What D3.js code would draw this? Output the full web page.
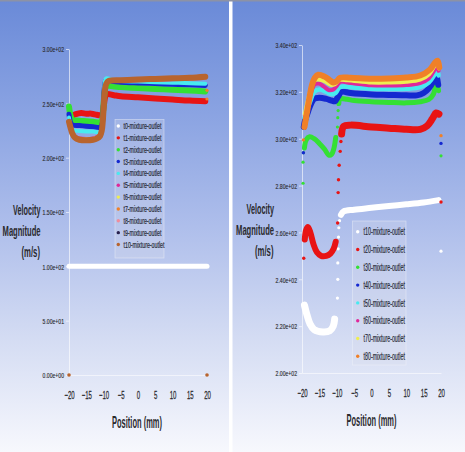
<!DOCTYPE html>
<html><head><meta charset="utf-8">
<script src="https://cdn.jsdelivr.net/npm/d3@7"></script>
<style>html,body{margin:0;padding:0;background:#fff;overflow:hidden}svg{display:block}</style>
</head><body>
<svg id="c" width="465" height="452"></svg>
<script>
// ---------- axis ticks / labels ----------
const positionTicks = [-20, -15, -10, -5, 0, 5, 10, 15, 20];
const leftValueTicks = [0, 50, 100, 150, 200, 250, 300];
const leftTickLabels = ["0.00e+00","5.00e+01","1.00e+02","1.50e+02","2.00e+02","2.50e+02","3.00e+02"];
const rightValueTicks = [200, 220, 240, 260, 280, 300, 320, 340];
const rightTickLabels = ["2.00e+02","2.20e+02","2.40e+02","2.60e+02","2.80e+02","3.00e+02","3.20e+02","3.40e+02"];
const leftSeriesNames = ["t0-mixture-outlet","t1-mixture-outlet","t2-mixture-outlet","t3-mixture-outlet","t4-mixture-outlet","t5-mixture-outlet","t6-mixture-outlet","t7-mixture-outlet","t8-mixture-outlet","t9-mixture-outlet","t10-mixture-outlet"];
const rightSeriesNames = ["t10-mixture-outlet","t20-mixture-outlet","t30-mixture-outlet","t40-mixture-outlet","t50-mixture-outlet","t60-mixture-outlet","t70-mixture-outlet","t80-mixture-outlet"];

// ---------- left chart data: [position mm, velocity m/s] ----------
const L_t0 = [[-20,100],[20,100]];
const L_t1 = [[-19.6,236],[-19,238.5],[-18,240],[-16.5,241],[-15,240.5],[-13.5,240.5],[-12,239.5],[-11,239],[-10.4,240],[-9.9,248],[-9.5,256],[-9,258.5],[-7,257.5],[-5,256.5],[0,255.5],[5,254.5],[10,253.5],[15,252.5],[19.5,252]];
const L_t2 = [[-20,247],[-19.5,238],[-19,235],[-17,234],[-15,233.5],[-13,233],[-11,232.5],[-10.4,235],[-10,248],[-9.6,262],[-9.2,266],[-7,265.5],[-5,265],[0,264],[5,263.3],[10,262.5],[15,261.8],[19.5,261]];
const L_t3 = [[-20,240],[-19.5,232],[-19,230],[-17,229.5],[-15,229],[-13,228.5],[-11,228],[-10.4,231],[-10,250],[-9.6,268],[-9.2,271.5],[-7,270],[-5,269.5],[0,268.8],[5,268.2],[10,267.6],[15,267],[19.5,266.5]];
const L_t4 = [[-20,237],[-19.5,228],[-19,225.5],[-17,224.5],[-15,224],[-13,224],[-11,223.5],[-10.4,227],[-10,250],[-9.6,270],[-9.2,273],[-7,271],[-5,270.5],[0,270],[5,269.5],[10,269],[15,268.5],[19.5,268]];
const L_t5 = [[-20,232],[-19.4,225],[-18.5,220],[-17,218],[-15,217.5],[-13,218],[-12,219],[-11,221.5],[-10.5,226],[-10.2,234],[-9.8,251],[-9.5,262],[-9.1,268],[-8.5,270],[-5,270.5],[0,271],[5,271.5],[10,272],[15,272.5],[19.5,273.5]];
const L_t6 = [[-20,232],[-19.4,225],[-18.5,219.5],[-17,217.5],[-15,217],[-13,217.5],[-12,218.5],[-11,221],[-10.5,226],[-10.2,234],[-9.8,251],[-9.5,262],[-9.1,268],[-8.5,270.3],[-5,270.8],[0,271.3],[5,271.8],[10,272.3],[15,272.8],[19.5,273.8]];
const L_t7 = [[-20,233],[-19.4,225.5],[-18.5,219.5],[-17,217],[-15,216.5],[-13,217],[-12,218],[-11,220.5],[-10.5,225.5],[-10.2,234],[-9.8,251],[-9.5,262],[-9.1,268],[-8.5,270.5],[-5,271],[0,271.6],[5,272.1],[10,272.6],[15,273.1],[19.5,274.1]];
const L_t8 = [[-20,233],[-19.4,226],[-18.5,219],[-17,217],[-15,216.5],[-13,217],[-12,218],[-11,220.5],[-10.5,225.5],[-10.2,234],[-9.8,251],[-9.5,262],[-9.1,268],[-8.5,270.5],[-5,271.2],[0,271.8],[5,272.3],[10,272.8],[15,273.3],[19.5,274.3]];
const L_t9 = [[-20,233],[-19.4,226],[-18.5,219],[-17,216.5],[-15,216],[-13,216.5],[-12,217.5],[-11,220],[-10.5,225],[-10.2,234],[-9.8,251],[-9.5,262],[-9.1,268],[-8.5,270.5],[-5,271.2],[0,271.9],[5,272.4],[10,272.9],[15,273.4],[19.5,274.4]];
const L_t10 = [[-20,233],[-19.5,227],[-19,222],[-18.3,218.5],[-17,216.5],[-15,216],[-13,216.5],[-12,217.5],[-11,220],[-10.5,225],[-10.2,234],[-9.9,250],[-9.6,262],[-9.2,268],[-8.5,270.5],[-5,271.3],[0,272],[5,272.5],[10,273],[15,273.5],[19.5,274.5]];
const L_wallDots = [[-20,0],[20,0]];
const L_endDots = [[20,262],[20,254]];

// ---------- right chart data ----------
const R_t10_left = [[-19.3,229],[-18.6,225],[-17.7,221],[-16.5,218.5],[-14,217.5],[-12,218],[-11,220],[-10.6,223]];
const R_t10_right = [[-8.8,267.5],[-8,269],[-5,269.7],[0,270.5],[5,271.3],[10,272],[15,272.8],[19.3,273.8]];
const R_t10_dots = [[-9.8,232],[-9.7,240],[-9.7,247],[-9.6,253],[-9.5,258],[-9.4,262],[-9.2,265],[20,252]];
const R_t20_left = [[-19.2,257],[-18.8,261],[-18.3,262.3],[-17.6,260],[-16.7,255],[-15.7,251.5],[-14.5,250],[-13,250],[-11.8,251],[-10.9,253],[-10.3,256]];
const R_t20_right = [[-8.6,302],[-8,305.3],[-6,305.8],[0,305],[5,304.5],[10,304],[14,304],[16,305.5],[17.5,308.5],[18.6,311],[19.4,310.5]];
const R_t20_dots = [[-19.5,249],[-9.75,264],[-9.6,277],[-9.5,282.5],[-9.3,288.7],[-9.0,294.6],[-8.8,298.8],[20,273]];
const R_t30_left = [[-19.3,296],[-18.8,299.5],[-17.8,300.8],[-16.5,300],[-15,298],[-13.5,295.5],[-12.3,293],[-11.5,293.3],[-10.8,296],[-10.3,300.5]];
const R_t30_right = [[-9.4,315],[-9,317],[-7,316.8],[-5,316.3],[0,315.8],[5,315.5],[10,315.3],[14,315.8],[16.5,316.8],[17.8,319],[18.7,324],[19.3,320.5]];
const R_t30_dots = [[-19.7,281],[-19.7,290],[-19.6,294],[-9.8,305],[-9.7,309],[-9.6,312],[20,292.7]];
const R_t40 = [[-19.5,305],[-19.1,308],[-18.6,310],[-17.7,313.8],[-16.5,317],[-15,317.5],[-13,317],[-11.5,316.3],[-10.5,316],[-9.6,318],[-8.6,320],[-6,319.5],[0,318.9],[5,318.7],[10,318.5],[13,318.5],[15,319.5],[16.5,321.5],[17.8,324.5],[18.6,327.2],[19.2,323]];
const R_t40_dots = [[-19.6,294],[20,298]];
const R_t50 = [[-19.3,309],[-18.5,312.5],[-17.5,316.5],[-16.5,320],[-15,321],[-13,320],[-11.5,319],[-10.3,319.5],[-9.3,321.8],[-8,322.3],[-4,321.7],[0,321.3],[5,321.2],[10,321.3],[14,322],[16.5,324],[18,327],[18.8,329.5],[19.3,327]];
const R_t60 = [[-19.2,310],[-18.3,314.5],[-17.3,320],[-16.3,323.3],[-15,323.5],[-13.5,322],[-12.2,320.7],[-11,321],[-10,322.5],[-9,324.3],[-6,323.8],[0,322.8],[5,322.7],[10,322.9],[14,323.7],[16.5,325.7],[18,329],[18.8,331.3],[19.3,329]];
const R_t70 = [[-19.2,310.5],[-18.2,317],[-17.2,322.5],[-16.2,325],[-14.8,325.2],[-13.2,324.3],[-11.8,323],[-10.5,323.3],[-9.3,325],[-7,325],[0,324],[5,324],[10,324.3],[14,325.2],[16.6,327.5],[18.1,331],[18.9,332.6],[19.4,330]];
const R_t80 = [[-19.3,305],[-18.6,311],[-17.8,318],[-17.2,322.5],[-16.3,326],[-15.3,327.3],[-13.5,326.5],[-12,325],[-11,324],[-10,324.5],[-9,326],[-6,326],[0,325.6],[5,325.7],[10,326.1],[14,327],[16.8,329.5],[18.3,332.5],[19,333.3],[19.5,330.5]];
const R_t80_dots = [[-19.6,299.5],[20,301.3]];

// ---------- styles ----------
const leftColors = ["#ffffff","#e81414","#34e034","#1428d0","#48eaf0","#e0289a","#eeee50","#f08028","#f08c9c","#28204e","#b8642e"];
const rightColors = ["#ffffff","#e81414","#34e034","#1428d0","#48eaf0","#e0289a","#eeee50","#f08028"];
const FONT = "'Liberation Sans', Arial, Helvetica, sans-serif";
const TXT = "#2a2a2e";

const svg = d3.select("#c");
const defs = svg.append("defs");
const grad = defs.append("linearGradient").attr("id","bg").attr("x1",0).attr("y1",0).attr("x2",0).attr("y2",1);
[[0,"#6a8ad8"],[0.25,"#8aa3e2"],[0.5,"#aebeeb"],[0.75,"#d4dcf3"],[1,"#f7f8fd"]].forEach(s=>grad.append("stop").attr("offset",s[0]).attr("stop-color",s[1]));

svg.append("rect").attr("width",465).attr("height",452).attr("fill","#ffffff");
svg.append("rect").attr("x",0).attr("y",0).attr("width",229).attr("height",452).attr("fill","url(#bg)");
svg.append("rect").attr("x",232.5).attr("y",0).attr("width",232.5).attr("height",452).attr("fill","url(#bg)");
svg.append("rect").attr("x",0).attr("y",0).attr("width",465).attr("height",1.5).attr("fill","#8c92a6");

// narrow text: measure the natural width, then squeeze horizontally to the target width
function squeeze(node, x, y, len) {
  const nat = node.getComputedTextLength() || len;
  d3.select(node).attr("x",0).attr("y",0).attr("transform",`translate(${x},${y}) scale(${len/nat},1)`);
}
function ltext(g, x, y, s, size, len, anchor, weight, color) {
  const t = g.append("text").attr("text-anchor",anchor).attr("font-size",size).attr("font-family",FONT)
    .attr("font-weight",weight||"normal").attr("fill",color||TXT).text(s);
  squeeze(t.node(), x, y, len);
  return t;
}
function band(g, x, y, pts, color, w) {
  g.append("path").datum(pts)
    .attr("d", d3.line().x(d=>x(d[0])).y(d=>y(d[1])).curve(d3.curveCatmullRom.alpha(0.5)))
    .attr("fill","none").attr("stroke",color).attr("stroke-width",w)
    .attr("stroke-linecap","round").attr("stroke-linejoin","round");
}
function dots(g, x, y, pts, color, r) {
  g.selectAll(null).data(pts).join("circle")
    .attr("cx",d=>x(d[0])).attr("cy",d=>y(d[1])).attr("r",r).attr("fill",color);
}
function axes(g, x, y, vTicks, vLabels, yBase) {
  const ya = g.append("g").attr("transform",`translate(${x.range()[0]},0)`)
    .call(d3.axisLeft(y).tickValues(vTicks).tickSize(3).tickSizeOuter(0).tickFormat((d,i)=>vLabels[i]));
  ya.select(".domain").attr("stroke","rgba(255,255,255,0.6)");
  ya.selectAll(".tick line").attr("stroke","rgba(255,255,255,0.6)");
  ya.selectAll(".tick text").attr("dy","0.36em")
    .attr("font-size",7.8).attr("font-family",FONT).attr("fill",TXT)
    .attr("stroke",TXT).attr("stroke-width",0.15)
    .each(function(){ squeeze(this, -5, 0, 21.5); });
  const xa = g.append("g").attr("transform",`translate(0,${yBase})`)
    .call(d3.axisBottom(x).tickValues(positionTicks).tickSize(0).tickSizeOuter(0).tickPadding(0));
  xa.select(".domain").attr("stroke","rgba(255,255,255,0.55)");
  xa.selectAll(".tick text").attr("dy","0.71em")
    .attr("font-size",11).attr("font-family",FONT).attr("fill",TXT)
    .attr("stroke",TXT).attr("stroke-width",0.25)
    .each(function(){ squeeze(this, 0, 16, this.getComputedTextLength()*0.55); });
  g.selectAll(".domain").attr("stroke-width",1);
}
function titles(g, rx, yVel) {
  ltext(g, rx, yVel, "Velocity", 15.5, 27.5, "end", "bold");
  ltext(g, rx, yVel+21, "Magnitude", 15.5, 38, "end", "bold");
  ltext(g, rx-0.5, yVel+42, "(m/s)", 15.5, 18.5, "end", "bold");
}
function legend(g, bx, by, bw, bh, names, colors, dotX, textX, y0, step, size, lens) {
  g.append("rect").attr("x",bx).attr("y",by).attr("width",bw).attr("height",bh)
    .attr("fill","rgba(215,220,236,0.3)").attr("stroke","rgba(245,247,252,0.5)").attr("stroke-width",0.8);
  names.forEach((n,i)=>{
    const cy = y0 + i*step;
    g.append("circle").attr("cx",dotX).attr("cy",cy).attr("r",1.7).attr("fill",colors[i]);
    ltext(g, textX, cy + size*0.36, n, size, n.length > 17 ? lens[1] : lens[0], "start", "normal", "#262a36")
      .attr("stroke","#262a36").attr("stroke-width",0.2);
  });
}

// ---------- LEFT CHART ----------
const xL = d3.scaleLinear().domain([-20,20]).range([69,207]);
const yL = d3.scaleLinear().domain([0,300]).range([375,49]);
const gL = svg.append("g");
axes(gL, xL, yL, leftValueTicks, leftTickLabels, 375);
ltext(gL, 137, 427.5, "Position (mm)", 16.5, 50, "middle", "bold");
titles(gL, 40.5, 215);

const leftCurves = [L_t0,L_t1,L_t2,L_t3,L_t4,L_t5,L_t6,L_t7,L_t8,L_t9,L_t10];
const leftWidths = [5,6,6,5,4,3.5,3.5,3.5,3.5,4,6];
leftCurves.forEach((c,i)=>band(gL, xL, yL, c, leftColors[i], leftWidths[i]));
dots(gL, xL, yL, L_endDots, leftColors[7], 1.6);
dots(gL, xL, yL, L_wallDots, leftColors[10], 1.8);
legend(gL, 115, 119.5, 49, 138.5, leftSeriesNames, leftColors, 118.3, 123.5, 126, 11.85, 8.5, [38, 41]);

// ---------- RIGHT CHART ----------
const xR = d3.scaleLinear().domain([-20,20]).range([302,441]);
const yR = d3.scaleLinear().domain([200,340]).range([373,45]);
const gR = svg.append("g");
axes(gR, xR, yR, rightValueTicks, rightTickLabels, 373);
ltext(gR, 371.5, 425.5, "Position (mm)", 16.5, 50, "middle", "bold");
titles(gR, 274, 214);

band(gR, xR, yR, R_t10_left, rightColors[0], 7);
band(gR, xR, yR, R_t10_right, rightColors[0], 6);
dots(gR, xR, yR, R_t10_dots, rightColors[0], 1.6);
band(gR, xR, yR, R_t20_left, rightColors[1], 6);
band(gR, xR, yR, R_t20_right, rightColors[1], 7);
dots(gR, xR, yR, R_t20_dots, rightColors[1], 1.7);
band(gR, xR, yR, R_t30_left, rightColors[2], 5);
band(gR, xR, yR, R_t30_right, rightColors[2], 5);
dots(gR, xR, yR, R_t30_dots, rightColors[2], 1.6);
band(gR, xR, yR, R_t40, rightColors[3], 6);
dots(gR, xR, yR, R_t40_dots, rightColors[3], 1.7);
band(gR, xR, yR, R_t50, rightColors[4], 4.5);
band(gR, xR, yR, R_t60, rightColors[5], 4);
band(gR, xR, yR, R_t70, rightColors[6], 4);
band(gR, xR, yR, R_t80, rightColors[7], 6);
dots(gR, xR, yR, R_t80_dots, rightColors[7], 1.7);
legend(gR, 352.5, 221, 53.5, 144, rightSeriesNames, rightColors, 357.7, 363.5, 231.7, 17.8, 10, [41, 41.5]);
</script>
</body></html>
